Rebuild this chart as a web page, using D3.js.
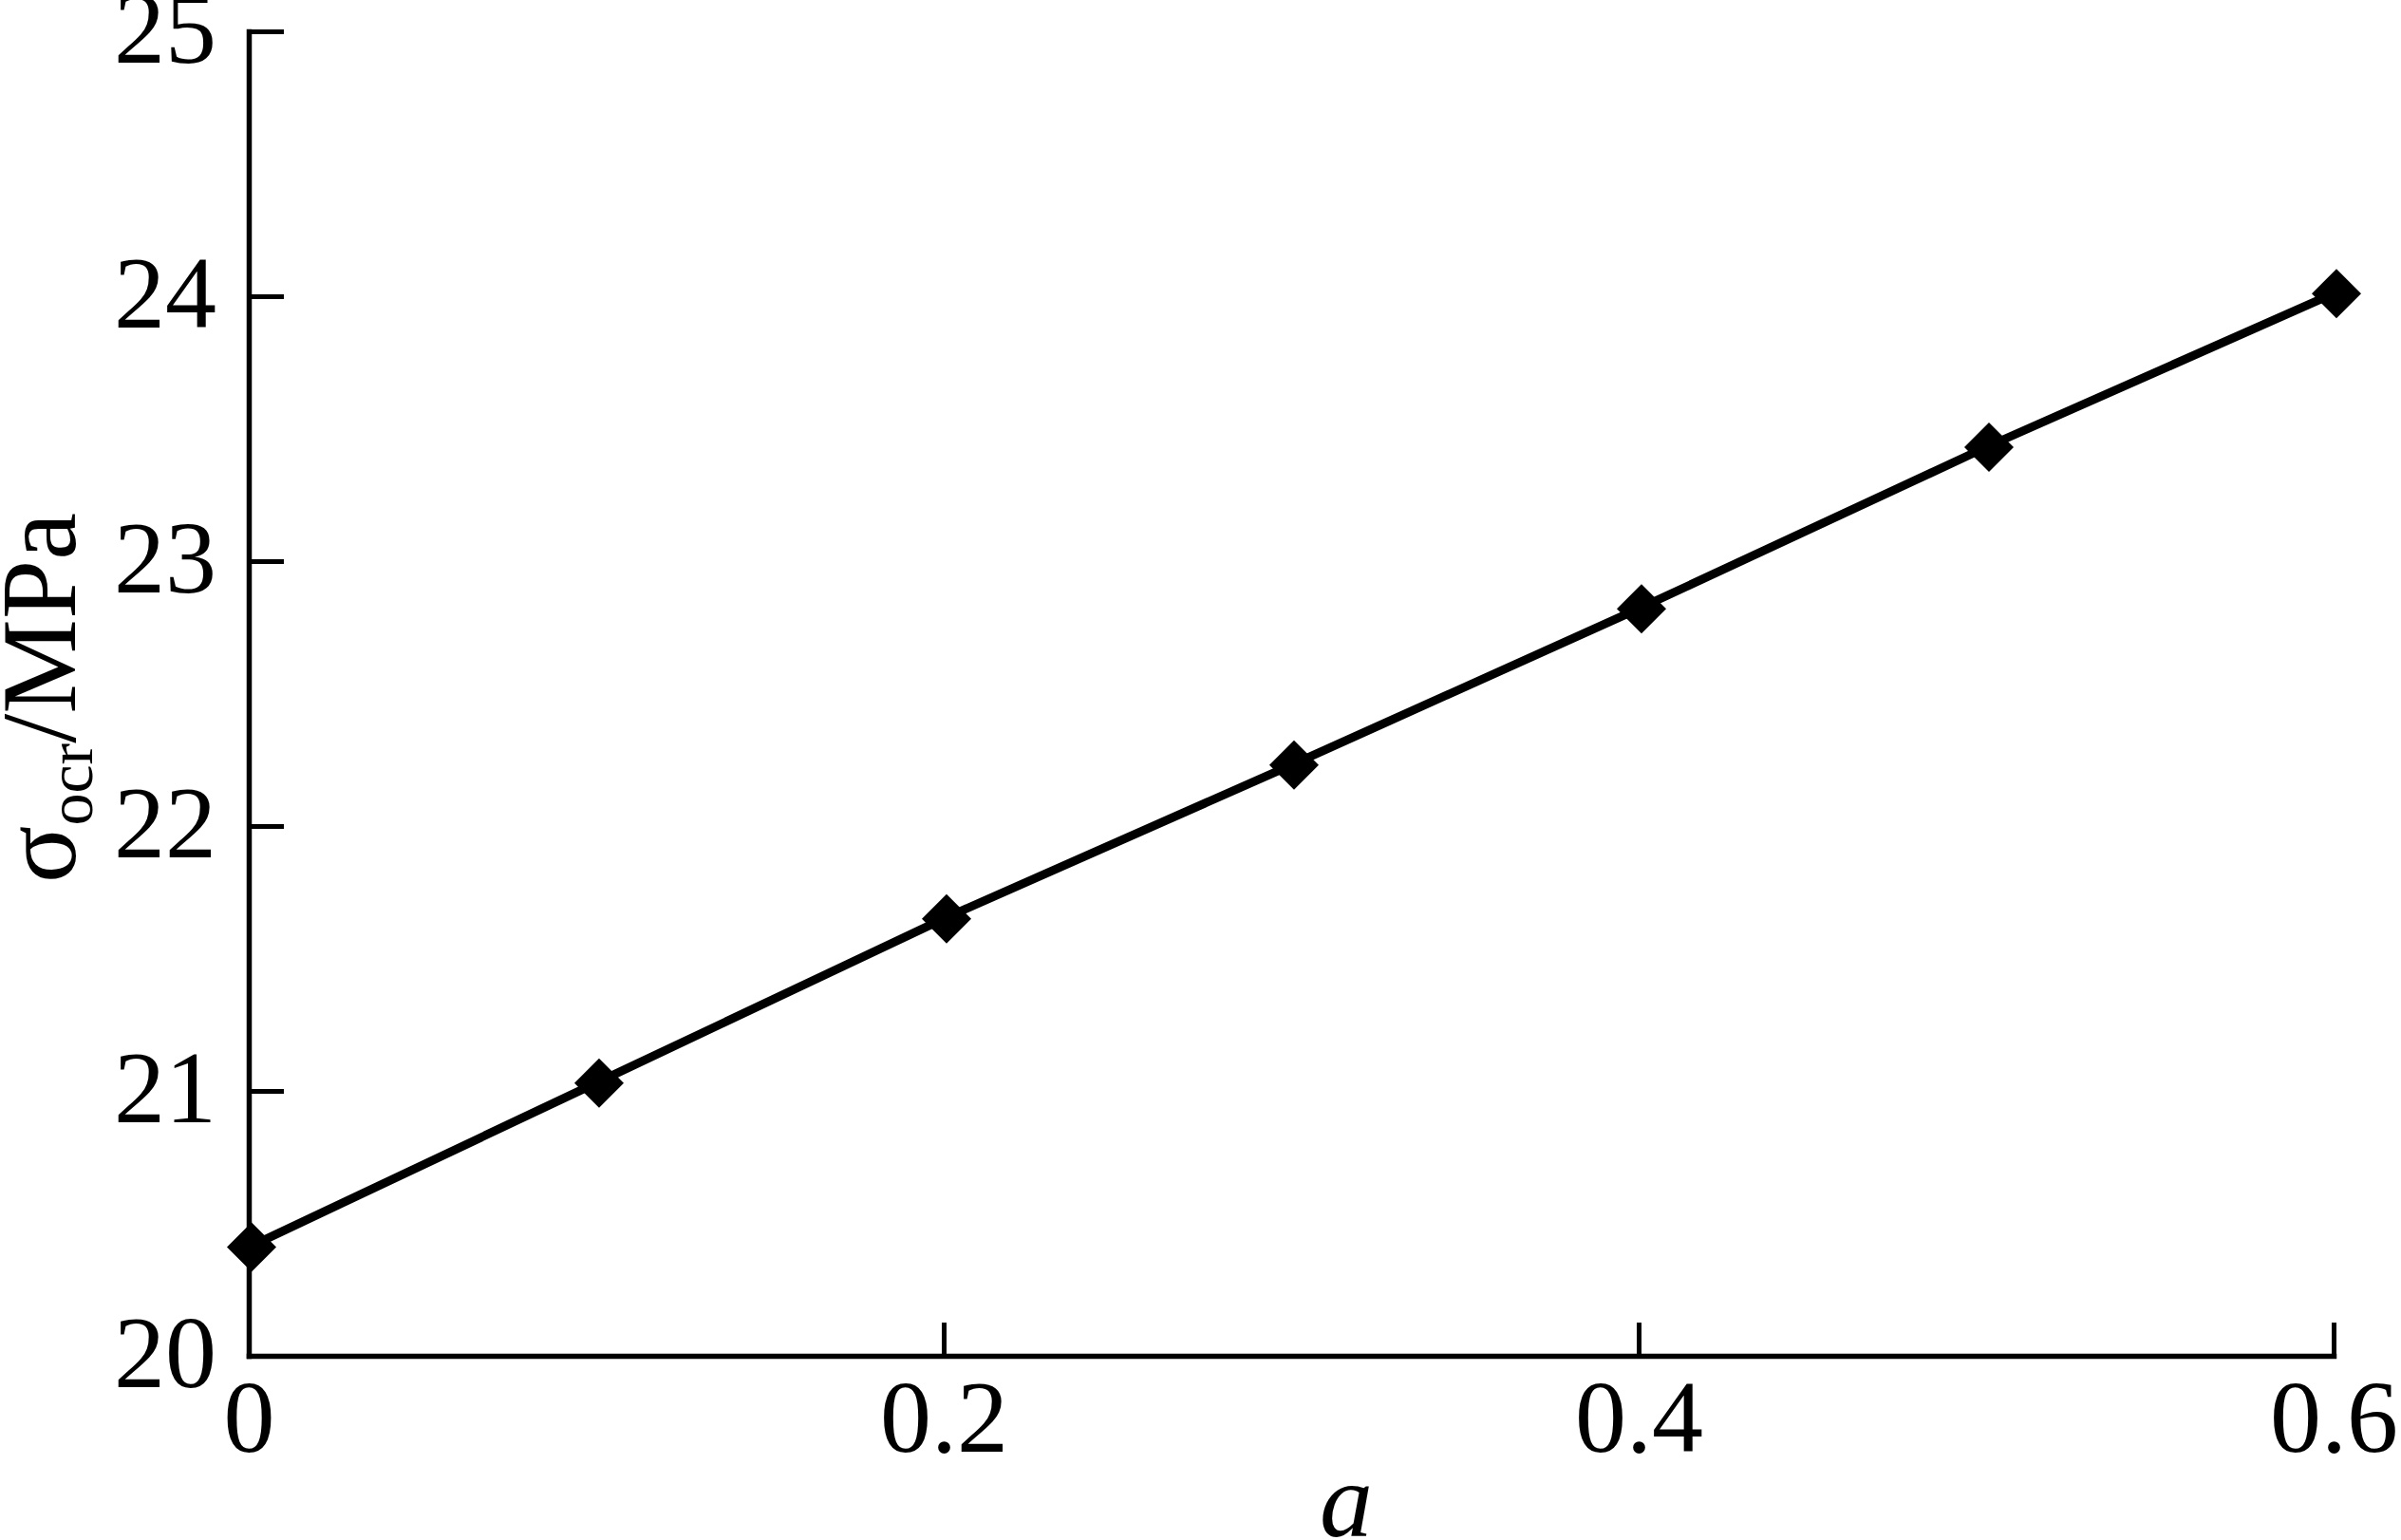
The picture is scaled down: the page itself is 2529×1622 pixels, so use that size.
<!DOCTYPE html>
<html>
<head>
<meta charset="utf-8">
<script src="https://cdn.jsdelivr.net/npm/d3@7"></script>
<style>
  html, body { margin: 0; padding: 0; background: #fff; }
  svg { display: block; }
  text { font-family: "Liberation Serif", "Times New Roman", serif; fill: #000; }
</style>
</head>
<body>
<svg id="chart" width="2529" height="1622"></svg>
<script>
// ---- data ----
const alphaValues = [0, 0.1, 0.2, 0.3, 0.4, 0.5, 0.6];
const sigmaValues = [20.41, 21.03, 21.65, 22.23, 22.82, 23.43, 24.01];
const xTickValues = [0, 0.2, 0.4, 0.6];
const xTickLabels = ["0", "0.2", "0.4", "0.6"];
const yTickValues = [20, 21, 22, 23, 24, 25];
const yTickLabels = ["20", "21", "22", "23", "24", "25"];

const svg = d3.select("#chart");
const plotLeft = 262, plotRight = 2458, plotTop = 33, plotBottom = 1428;

const x = d3.scaleLinear().domain([0, 0.6]).range([plotLeft, plotRight]);
const y = d3.scaleLinear().domain([20, 25]).range([plotBottom, plotTop]);

const fontSize = 108;

// x axis
const xAxis = d3.axisBottom(x)
  .tickValues(xTickValues)
  .tickFormat((d, i) => xTickLabels[i])
  .tickSizeInner(-35)
  .tickSizeOuter(0)
  .tickPadding(24);
const gx = svg.append("g").attr("transform", `translate(0,${plotBottom})`).call(xAxis);
gx.select(".domain").attr("stroke", "#000").attr("stroke-width", 5.5).attr("stroke-linecap", "square");
gx.selectAll(".tick line").attr("stroke", "#000").attr("stroke-width", 5);
gx.selectAll(".tick text").attr("font-size", fontSize).attr("font-family", "Liberation Serif").attr("fill", "#000");

// y axis
const yAxis = d3.axisLeft(y)
  .tickValues(yTickValues)
  .tickFormat((d, i) => yTickLabels[i])
  .tickSizeInner(-37)
  .tickSizeOuter(0)
  .tickPadding(34);
const gy = svg.append("g").attr("transform", `translate(${plotLeft},0)`).call(yAxis);
gy.select(".domain").attr("stroke", "#000").attr("stroke-width", 5.5).attr("stroke-linecap", "square");
gy.selectAll(".tick line").attr("stroke", "#000").attr("stroke-width", 5);
gy.selectAll(".tick text").attr("font-size", fontSize).attr("font-family", "Liberation Serif").attr("fill", "#000").attr("dy", "0.3em");

// data line
const pts = alphaValues.map((a, i) => [a, sigmaValues[i]]);
svg.append("path")
  .datum(pts)
  .attr("fill", "none")
  .attr("stroke", "#000")
  .attr("stroke-width", 9)
  .attr("d", d3.line().x(d => x(d[0])).y(d => y(d[1])));

// diamond markers
const diamond = d3.symbol().type(d3.symbolSquare).size(2 * 26 * 26);
svg.selectAll(".marker")
  .data(pts)
  .enter().append("path")
  .attr("class", "marker")
  .attr("d", diamond)
  .attr("fill", "#000")
  .attr("transform", d => `translate(${x(d[0]) + 3},${y(d[1])}) rotate(45)`);

// axis titles
svg.append("text")
  .attr("x", 1418)
  .attr("y", 1618)
  .attr("text-anchor", "middle")
  .attr("font-size", 112)
  .attr("font-style", "italic")
  .text("a");

const yt = svg.append("text")
  .attr("transform", `translate(79,735) rotate(-90)`)
  .attr("text-anchor", "middle")
  .attr("font-size", 112);
yt.append("tspan").text("σ");
yt.append("tspan").attr("font-size", 68).attr("dy", 18).text("ocr");
yt.append("tspan").attr("dy", -18).text("/MPa");
</script>
</body>
</html>
